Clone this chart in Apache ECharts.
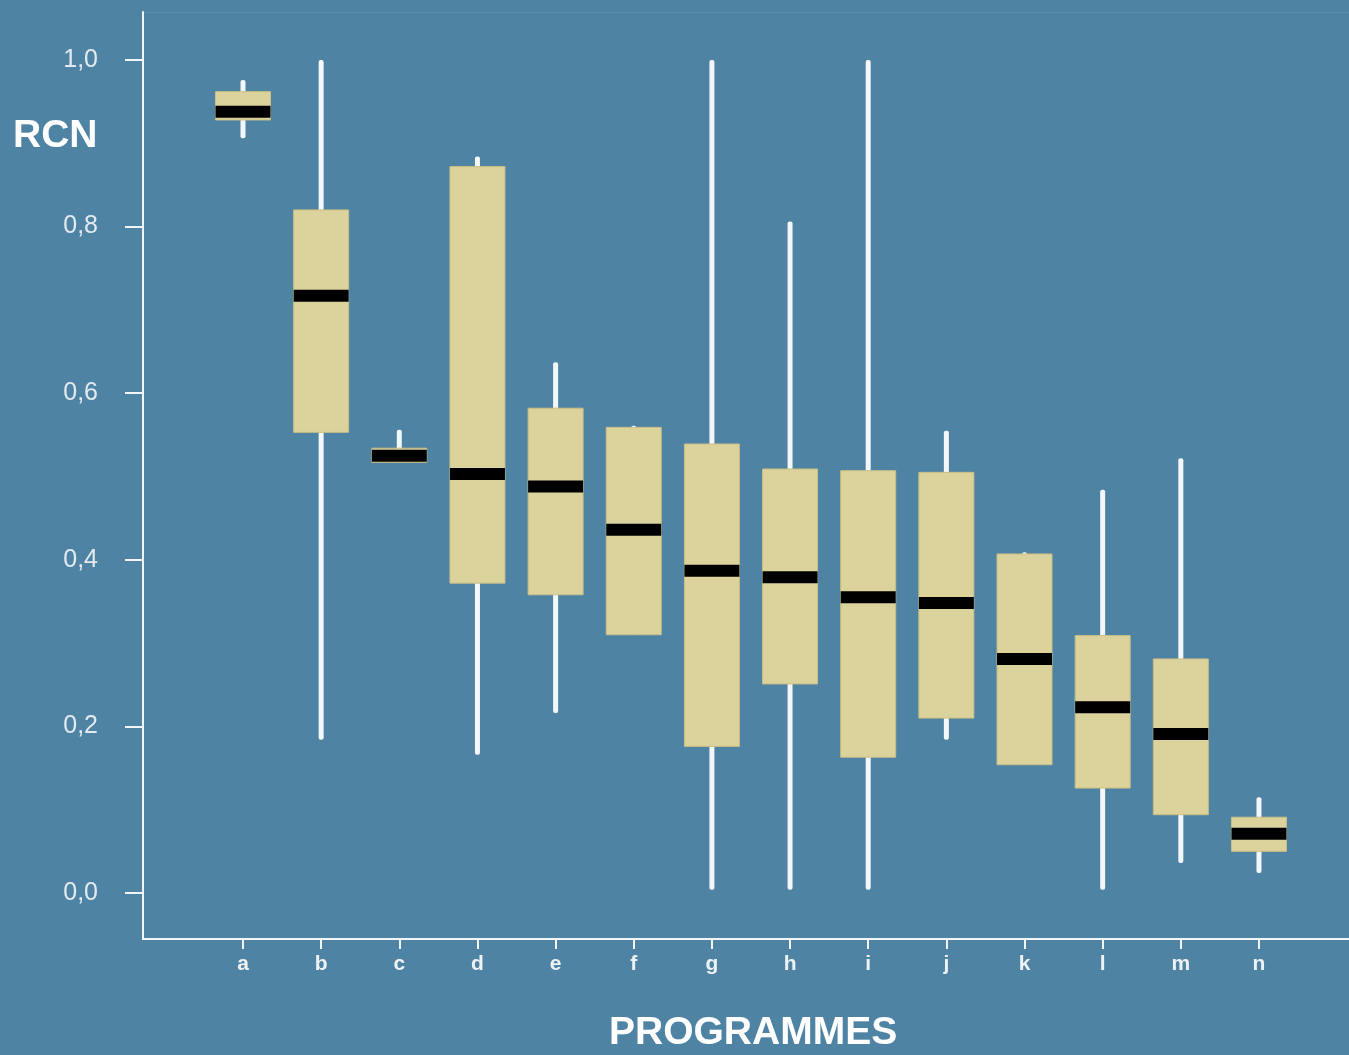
<!DOCTYPE html>
<html>
<head>
<meta charset="utf-8">
<script src="https://cdn.jsdelivr.net/npm/echarts@6/dist/echarts.min.js"></script>
<style>
  html, body { margin: 0; padding: 0; background: #4e83a4; }
  #chart { width: 1349px; height: 1055px; }
</style>
</head>
<body>
<div id="chart"></div>
<script>
// Programme labels
const programmes = ['a', 'b', 'c', 'd', 'e', 'f', 'g', 'h', 'i', 'j', 'k', 'l', 'm', 'n'];
// Five-number summaries of RCN per programme
const whiskerLow  = [0.906, 0.184, 0.517, 0.166, 0.216, 0.310, 0.004, 0.004, 0.004, 0.184, 0.154, 0.004, 0.036, 0.024];
const quartile1   = [0.928, 0.553, 0.517, 0.372, 0.358, 0.310, 0.176, 0.251, 0.163, 0.210, 0.154, 0.126, 0.094, 0.050];
const medians     = [0.938, 0.717, 0.525, 0.503, 0.488, 0.436, 0.387, 0.379, 0.355, 0.348, 0.281, 0.223, 0.191, 0.071];
const quartile3   = [0.962, 0.820, 0.534, 0.872, 0.582, 0.559, 0.539, 0.509, 0.507, 0.505, 0.407, 0.309, 0.281, 0.091];
const whiskerHigh = [0.976, 1.000, 0.556, 0.884, 0.637, 0.561, 1.000, 0.806, 1.000, 0.555, 0.409, 0.484, 0.522, 0.115];
// Y tick values
const yTicks = [0, 0.2, 0.4, 0.6, 0.8, 1.0];

const boxData = programmes.map((p, i) => [i + 1, whiskerLow[i], quartile1[i], medians[i], quartile3[i], whiskerHigh[i]]);
const xPositions = programmes.map((p, i) => i + 1);

const chart = echarts.init(document.getElementById('chart'));

const BOX_W = 55;
const MEDIAN_H = 12;
const WHISKER_W = 5;

function renderBox(params, api) {
  const x = api.value(0);
  const pLow = api.coord([x, api.value(1)]);
  const pQ1 = api.coord([x, api.value(2)]);
  const pMed = api.coord([x, api.value(3)]);
  const pQ3 = api.coord([x, api.value(4)]);
  const pHigh = api.coord([x, api.value(5)]);
  const cx = pMed[0];
  return {
    type: 'group',
    children: [
      {
        type: 'rect',
        shape: { x: cx - WHISKER_W / 2, y: pHigh[1], width: WHISKER_W, height: Math.max(pLow[1] - pHigh[1], 0), r: 2 },
        style: { fill: '#f4f7f9' }
      },
      {
        type: 'rect',
        shape: { x: cx - BOX_W / 2, y: pQ3[1], width: BOX_W, height: Math.max(pQ1[1] - pQ3[1], 1) },
        style: { fill: '#dcd29b', stroke: '#c9bf86', lineWidth: 1 }
      },
      {
        type: 'rect',
        shape: { x: cx - BOX_W / 2, y: pMed[1] - MEDIAN_H / 2, width: BOX_W, height: MEDIAN_H },
        style: { fill: '#000000' }
      }
    ]
  };
}

const option = {
  backgroundColor: '#4e83a4',
  animation: false,
  grid: { left: 143, right: 0, top: 12, bottom: 116 },
  xAxis: [
    {
      type: 'value',
      min: -0.2796,
      max: 15.152,
      splitLine: { show: false },
      axisLine: { show: true, onZero: false, lineStyle: { color: '#f2f5f8', width: 2 } },
      axisTick: { show: true, customValues: xPositions, length: 10, lineStyle: { color: '#f2f5f8', width: 2 } },
      axisLabel: {
        customValues: xPositions,
        formatter: v => programmes[Math.round(v) - 1] || '',
        color: '#eef2f5', fontSize: 21, fontWeight: 'bold', fontFamily: 'Liberation Sans, Arial, sans-serif', margin: 15
      }
    },
    {
      type: 'value',
      position: 'top',
      min: -0.2796,
      max: 15.152,
      splitLine: { show: false },
      axisLine: { show: true, onZero: false, lineStyle: { color: 'rgba(255,255,255,0.08)', width: 1 } },
      axisTick: { show: false },
      axisLabel: { show: false }
    }
  ],
  yAxis: {
    type: 'value',
    min: -0.0552,
    max: 1.0576,
    splitLine: { show: false },
    axisLine: { show: true, onZero: false, lineStyle: { color: '#f2f5f8', width: 2 } },
    axisTick: { show: true, customValues: yTicks, length: 18, lineStyle: { color: '#f2f5f8', width: 2 } },
    axisLabel: {
      customValues: yTicks,
      formatter: v => v.toFixed(1).replace('.', ','),
      color: '#e3eaf0', fontSize: 25, fontFamily: 'Liberation Sans, Arial, sans-serif', margin: 45
    }
  },
  graphic: [
    {
      type: 'text', left: 13, top: 117,
      style: { text: 'RCN', fill: '#ffffff', font: 'bold 39px "Liberation Sans", Arial, sans-serif' }
    },
    {
      type: 'text', left: 609, top: 1014,
      style: { text: 'PROGRAMMES', fill: '#ffffff', font: 'bold 39px "Liberation Sans", Arial, sans-serif' }
    }
  ],
  series: [
    {
      type: 'custom',
      renderItem: renderBox,
      encode: { x: 0, y: [1, 2, 3, 4, 5] },
      data: boxData
    }
  ]
};

chart.setOption(option);
</script>
</body>
</html>
